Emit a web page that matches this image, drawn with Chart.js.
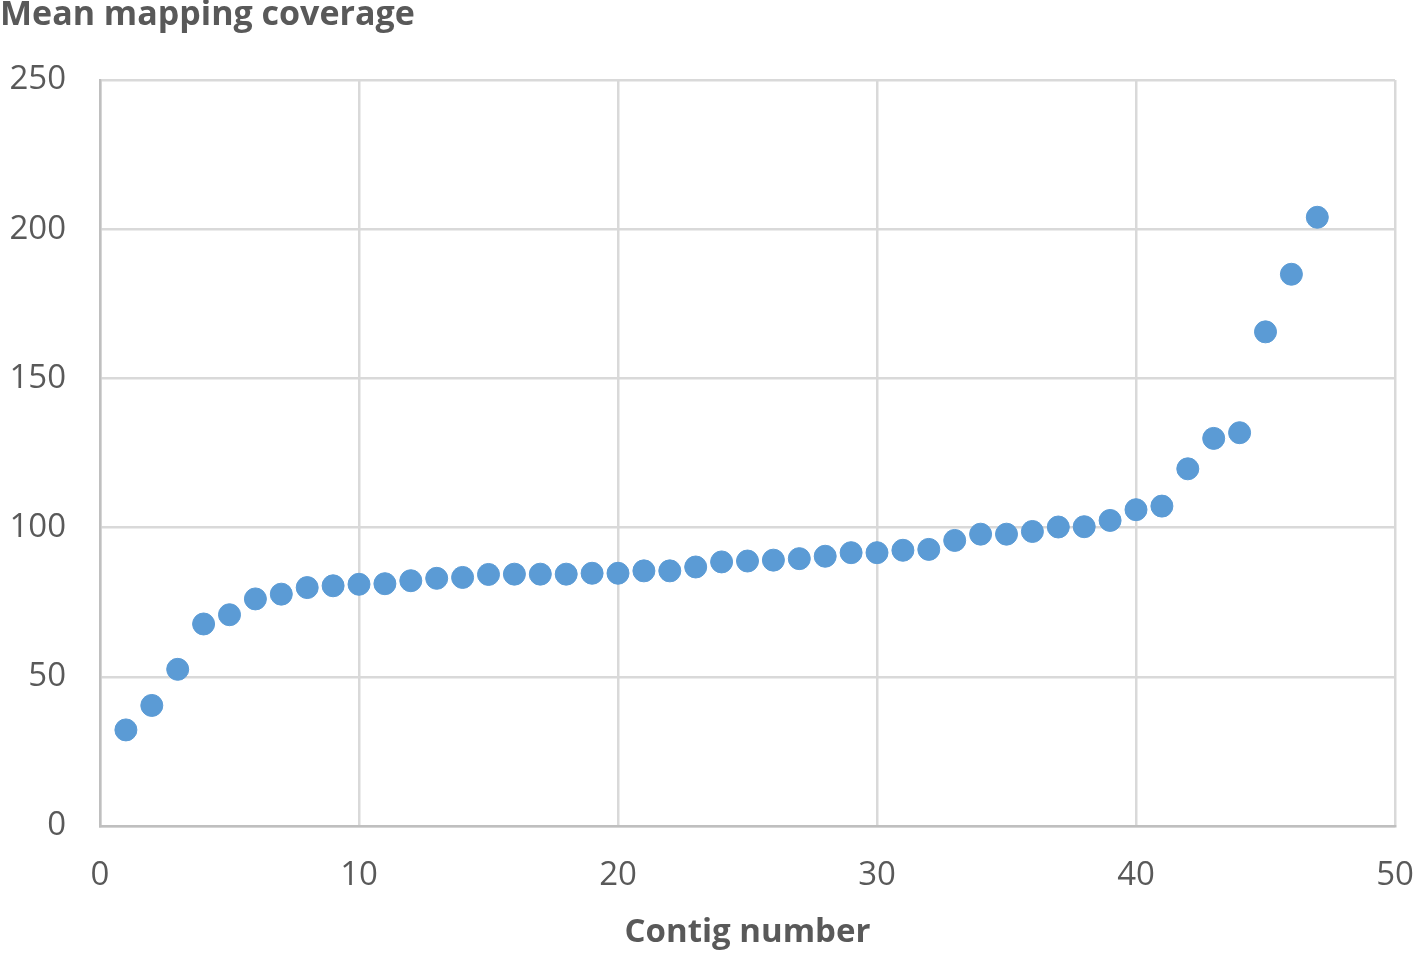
<!DOCTYPE html>
<html>
<head>
<meta charset="utf-8">
<script src="https://cdn.jsdelivr.net/npm/chart.js@4/dist/chart.umd.min.js"></script>
<style>
  html, body { margin: 0; padding: 0; background: #fff; }
  #wrap { width: 1416px; height: 954px; position: relative; }
</style>
</head>
<body>
<div id="wrap"><canvas id="cov" width="1416" height="954"></canvas></div>
<script>
// Contig number (x) and mean mapping coverage (y)
const contigs = [1,2,3,4,5,6,7,8,9,10,11,12,13,14,15,16,17,18,19,20,21,22,23,24,25,26,27,28,29,30,31,32,33,34,35,36,37,38,39,40,41,42,43,44,45,46,47];
const coverage = [32.2,40.4,52.5,67.7,70.8,76.1,77.7,79.9,80.5,81.0,81.2,82.2,83.0,83.3,84.3,84.4,84.4,84.4,84.7,84.7,
                  85.5,85.5,86.8,88.5,88.8,89.1,89.6,90.4,91.6,91.6,92.4,92.7,95.7,97.8,97.8,98.7,100.2,100.3,102.4,106.0,
                  107.2,119.7,129.9,131.8,165.6,184.9,204.0];
const xTicks = [0, 10, 20, 30, 40, 50];
const yTicks = [0, 50, 100, 150, 200, 250];

const FONT = "'Open Sans', 'Noto Sans', sans-serif";
const TEXT = '#595959';
const GRID = '#d9d9d9';
const AXIS = '#bfbfbf';
const BLUE = '#5b9bd5';

// Excel-style heading sitting above the plot, top-left
const topTitle = {
  id: 'topTitle',
  afterDraw(chart) {
    const ctx = chart.ctx;
    ctx.save();
    ctx.font = "bold 34px " + FONT;
    ctx.fillStyle = TEXT;
    ctx.textAlign = 'left';
    ctx.textBaseline = 'middle';
    ctx.fillText('Mean mapping coverage', 0, 15);
    ctx.restore();
  }
};

new Chart(document.getElementById('cov'), {
  type: 'scatter',
  data: {
    datasets: [{
      data: contigs.map((c, i) => ({ x: c, y: coverage[i] })),
      backgroundColor: BLUE,
      borderColor: BLUE,
      borderWidth: 1,
      pointRadius: 11,
      pointHoverRadius: 11,
    }],
  },
  options: {
    responsive: false,
    animation: false,
    layout: { padding: { top: 80, right: 21, left: 0, bottom: 0 } },
    plugins: { legend: { display: false }, tooltip: { enabled: false } },
    scales: {
      x: {
        type: 'linear',
        min: xTicks[0], max: xTicks[xTicks.length - 1],
        afterBuildTicks: s => { s.ticks = xTicks.map(v => ({ value: v })); },
        afterFit: s => { s.height = 128; },
        // invisible tick marks push the labels down without widening the side padding
        grid: { color: GRID, lineWidth: 2.5, drawTicks: true, tickLength: 30, tickColor: 'rgba(0,0,0,0)' },
        border: { color: AXIS, width: 2.5 },
        ticks: { color: TEXT, font: { family: FONT, size: 33 }, padding: 0, maxRotation: 0 },
        title: { display: true, text: 'Contig number', color: TEXT, font: { family: FONT, size: 33, weight: 'bold' }, padding: { top: 0, bottom: 2 } },
      },
      y: {
        min: yTicks[0], max: yTicks[yTicks.length - 1],
        afterBuildTicks: s => { s.ticks = yTicks.map(v => ({ value: v })); },
        afterFit: s => { s.width = 100; },
        grid: { color: GRID, lineWidth: 2.5, drawTicks: false },
        border: { color: AXIS, width: 2.5 },
        ticks: { color: TEXT, font: { family: FONT, size: 33 }, padding: 34 },
      },
    },
  },
  plugins: [topTitle],
});
</script>
</body>
</html>
